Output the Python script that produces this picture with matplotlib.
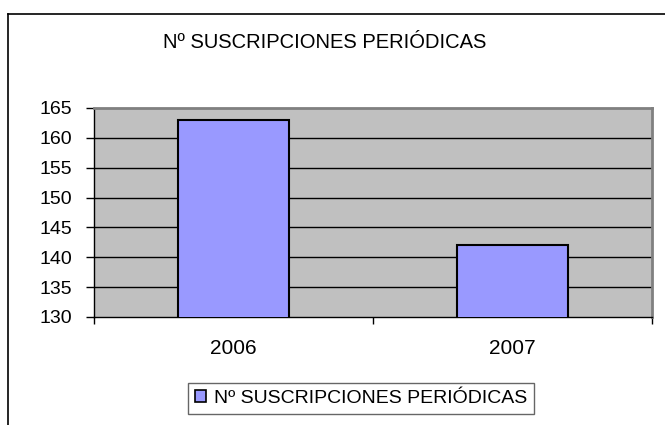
import matplotlib
matplotlib.use("Agg")
import matplotlib.pyplot as plt
from matplotlib.lines import Line2D
from matplotlib.patches import Patch

categories = ["2006", "2007"]
values = [163, 142]
series_name = "Nº SUSCRIPCIONES PERIÓDICAS"
yticks = [130, 135, 140, 145, 150, 155, 160, 165]

plt.rcParams['font.family'] = ['Liberation Sans', 'DejaVu Sans']

W, H = 665, 425
fig = plt.figure(figsize=(W/100, H/100), dpi=100)
ax = fig.add_axes([94/W, 1-317/H, (652-94)/W, (317-108)/H])

ax.set_facecolor('#C0C0C0')
x = list(range(len(categories)))
ax.bar(x, values, width=0.4, bottom=0, color='#9999FF', edgecolor='black', linewidth=1.5, zorder=3)
ax.set_xlim(-0.5, len(categories)-0.5)
ax.set_ylim(130, 165)
ax.set_yticks(yticks)
ax.set_yticklabels([str(v) for v in yticks], fontsize=14)
for v in yticks[1:-1]:
    ax.axhline(v, color='black', linewidth=1, zorder=1)

ax.set_xticks(x)
ax.set_xticklabels(categories, fontsize=15)
ax.tick_params(axis='x', length=0, pad=16)
ax.set_xticks([-0.5, 0.5, 1.5], minor=True)
ax.tick_params(axis='x', which='minor', length=5, width=1, direction='out', color='black')
ax.tick_params(axis='y', length=6, width=1, direction='out', pad=10)

for s in ['top', 'right']:
    ax.spines[s].set_color('#808080')
    ax.spines[s].set_linewidth(2)
for s in ['left', 'bottom']:
    ax.spines[s].set_color('black')
    ax.spines[s].set_linewidth(1)

fig.text(325/W, 1-43/H, series_name, ha='center', va='center', fontsize=14.5)

# outer chart border (left and top visible)
fig.add_artist(Line2D([8/W, 8/W], [0, 1-14/H], color='black', linewidth=1.2, transform=fig.transFigure))
fig.add_artist(Line2D([8/W, 1], [1-14/H, 1-14/H], color='black', linewidth=1.2, transform=fig.transFigure))

handle = Patch(facecolor='#9999FF', edgecolor='black', linewidth=1.2)
leg = fig.legend([handle], [series_name], loc='center', bbox_to_anchor=(361/W, 1-398.5/H),
                 fontsize=14, frameon=True, fancybox=False, handlelength=0.55, handleheight=0.55,
                 handletextpad=0.4, borderpad=0.35, borderaxespad=0)
leg.get_frame().set_edgecolor('#404040')
leg.get_frame().set_linewidth(1)

fig.savefig('out.png', dpi=100)
